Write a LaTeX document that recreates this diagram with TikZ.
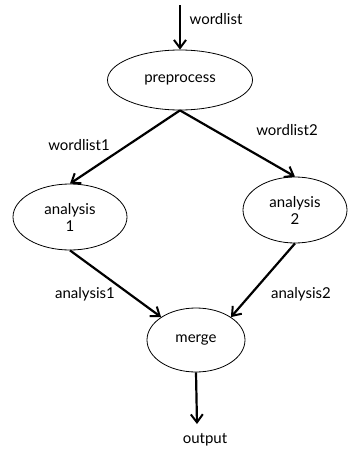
\documentclass[tikz,border=0pt]{standalone}
\usepackage{fontspec}
\setmainfont{Lato}
\usetikzlibrary{arrows.meta,shapes.geometric}
\begin{document}
\begin{tikzpicture}[x=1pt,y=-1pt,
  proc/.style={ellipse,draw,line width=0.8pt,inner sep=0pt,font=\fontsize{15}{17}\selectfont,align=center},
  flow/.style={line width=2.2pt,-{Straight Barb[length=8pt,width=12pt,line width=2pt]}},
  lbl/.style={font=\fontsize{15}{17}\selectfont,inner sep=0pt}]
\useasboundingbox (0,0) rectangle (348,450);
\node[proc,minimum width=145pt,minimum height=60pt] (pre) at (180,80) {preprocess};
\node[proc,minimum width=114pt,minimum height=66pt] (an1) at (70,217) {analysis\\1};
\node[proc,minimum width=104pt,minimum height=66pt] (an2) at (295,210) {analysis\\2};
\node[proc,minimum width=98pt,minimum height=64pt] (mrg) at (196,340) {merge};
\coordinate (in) at (180,5);
\coordinate (out) at (197,424);
\draw[flow] (in) -- (pre.north);
\draw[flow] (pre.south) -- (an1.north);
\draw[flow] (pre.south) -- (an2.north);
\draw[flow] (an1.south) -- (mrg.north west);
\draw[flow] (an2.south) -- (mrg.north east);
\draw[flow] (mrg.south) -- (out);
\node[lbl] (lw) at (216,19) {wordlist};
\node[lbl] (lw1) at (79,145) {wordlist1};
\node[lbl] (lw2) at (287,130) {wordlist2};
\node[lbl] (la1) at (85,294) {analysis1};
\node[lbl] (la2) at (301,294) {analysis2};
\node[lbl] (lo) at (205,440) {output};
\end{tikzpicture}
\end{document}
